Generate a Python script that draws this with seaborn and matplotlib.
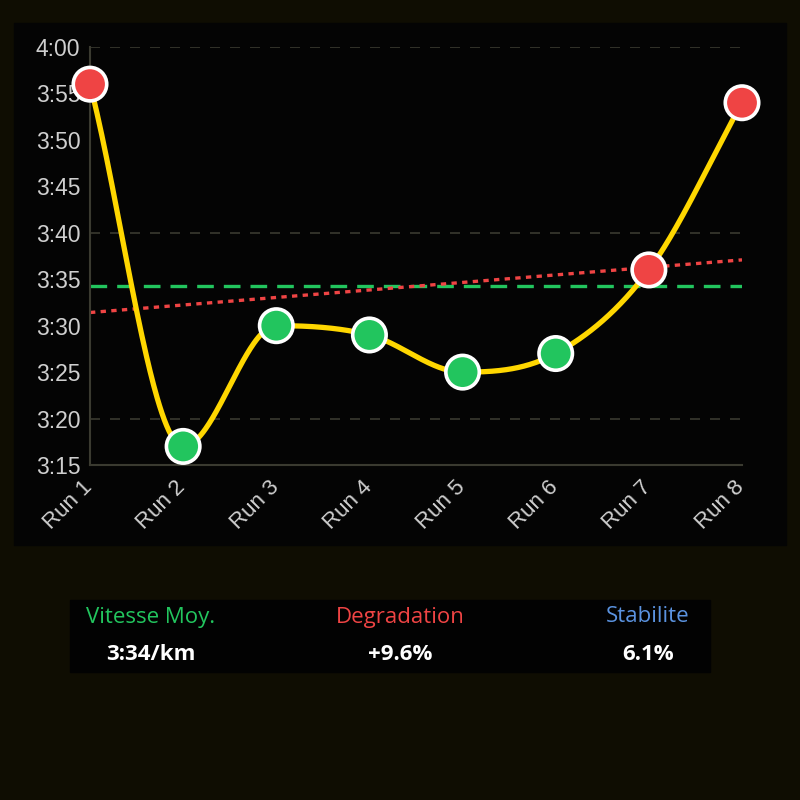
import numpy as np
import matplotlib
matplotlib.use("Agg")
import matplotlib.pyplot as plt
import matplotlib.transforms as mtransforms
import seaborn as sns
from matplotlib.patches import Rectangle

runs = ["Run 1", "Run 2", "Run 3", "Run 4", "Run 5", "Run 6", "Run 7", "Run 8"]
pace_sec = [236, 197, 210, 209, 205, 207, 216, 234]  # seconds per km
y_ticks = [195, 200, 205, 210, 215, 220, 225, 230, 235, 240]
y_tick_labels = ["3:15", "3:20", "3:25", "3:30", "3:35", "3:40", "3:45", "3:50", "3:55", "4:00"]
grid_values = [200, 220, 240]
stat_labels = ["Vitesse Moy.", "Degradation", "Stabilite"]
stat_values = ["3:34/km", "+9.6%", "6.1%"]

GREEN = "#22c55e"
RED = "#ef4444"
BLUE = "#5b93e0"
YELLOW = "#ffd700"

sns.set_theme(style="dark")
plt.rcParams["font.family"] = ["Liberation Sans", "DejaVu Sans"]

fig = plt.figure(figsize=(8, 8), dpi=100)
fig.patch.set_facecolor("#0f0d02")
# panels
fig.patches.append(Rectangle((14 / 800, 1 - 545 / 800), 772 / 800, 522 / 800,
                             transform=fig.transFigure, color="#040404", zorder=-2))
fig.patches.append(Rectangle((70 / 800, 1 - 672 / 800), 640 / 800, 72 / 800,
                             transform=fig.transFigure, color="#020202", zorder=-2))

ax = fig.add_axes([90 / 800, 1 - 465 / 800, 652 / 800, 418 / 800])
ax.set_facecolor("none")
ax.patch.set_alpha(0)
ax.set_xlim(0, len(runs) - 1)
ax.set_ylim(195, 240)

x = np.arange(len(runs), dtype=float)
y = np.array(pace_sec, dtype=float)

# Monotone cubic interpolation (Chart.js "monotone" style)
n = len(x)
deltas = np.diff(y) / np.diff(x)
mk = np.zeros(n)
mk[0] = deltas[0]
mk[-1] = deltas[-1]
for i in range(1, n - 1):
    dp, dn = deltas[i - 1], deltas[i]
    if dp == 0 or dn == 0 or np.sign(dp) != np.sign(dn):
        mk[i] = 0.0
    else:
        mk[i] = (dp + dn) / 2
for i in range(n - 1):
    d = deltas[i]
    if abs(d) < 1e-9:
        mk[i] = mk[i + 1] = 0.0
        continue
    a = mk[i] / d
    b = mk[i + 1] / d
    sq = a * a + b * b
    if sq > 9:
        tau = 3 / np.sqrt(sq)
        mk[i] = a * tau * d
        mk[i + 1] = b * tau * d

uu = np.linspace(0, 1, 80)
cx_all, cy_all = [], []
for i in range(n - 1):
    h = x[i + 1] - x[i]
    h00 = 2 * uu**3 - 3 * uu**2 + 1
    h10 = uu**3 - 2 * uu**2 + uu
    h01 = -2 * uu**3 + 3 * uu**2
    h11 = uu**3 - uu**2
    cx_all.append(x[i] + uu * h)
    cy_all.append(h00 * y[i] + h10 * h * mk[i] + h01 * y[i + 1] + h11 * h * mk[i + 1])
cx_all = np.concatenate(cx_all)
cy_all = np.concatenate(cy_all)

for g in grid_values:
    ax.axhline(g, color="#3a3a30", lw=1.2, ls=(0, (6, 6)), zorder=1)

mean_pace = y.mean()
ax.axhline(mean_pace, color=GREEN, lw=2.4, ls=(0, (5, 3)), zorder=2)

slope, intercept = np.polyfit(x, y, 1)
xt = np.array([0, len(runs) - 1])
ax.plot(xt, slope * xt + intercept, color=RED, lw=2.4, ls=(0, (1.6, 1.6)), zorder=2)

sns.lineplot(x=cx_all, y=cy_all, color=YELLOW, lw=3.8, zorder=3, ax=ax,
             sort=False, estimator=None, clip_on=False)

colors = [RED if v > mean_pace else GREEN for v in y]
sns.scatterplot(x=x, y=y, hue=runs, palette=colors, s=580, edgecolor="white",
                linewidth=2.6, legend=False, zorder=4, ax=ax, clip_on=False)

ax.set_xticks(x)
ax.set_xticklabels([])
lab_trans = mtransforms.blended_transform_factory(ax.transData, ax.transAxes) + \
    mtransforms.ScaledTranslation(-8 / 100, -12 / 100, fig.dpi_scale_trans)
for xi, name in zip(x, runs):
    ax.text(xi, 0, name, transform=lab_trans, rotation=45, ha="right", va="top",
            rotation_mode="anchor", color="#cfcfcf", fontsize=16, clip_on=False)
ax.set_yticks(y_ticks)
ax.set_yticklabels(y_tick_labels, color="#cfcfcf", fontsize=16.5)
ax.tick_params(axis="x", length=7, width=1.2, color="#3a3a30", pad=6)
ax.tick_params(axis="y", length=0, pad=7)
for s in ["top", "right"]:
    ax.spines[s].set_visible(False)
for s in ["left", "bottom"]:
    ax.spines[s].set_visible(True)
    ax.spines[s].set_color("#3a3a30")
    ax.spines[s].set_linewidth(1.5)
ax.grid(False)
ax.set_xlabel("")
ax.set_ylabel("")

label_colors = [GREEN, RED, BLUE]
centers = [151, 400, 648]
for lab, val, col, cx in zip(stat_labels, stat_values, label_colors, centers):
    fig.text(cx / 800, 1 - 617 / 800, lab, color=col, fontsize=16,
             ha="center", va="center", family=["Open Sans", "DejaVu Sans"])
    fig.text(cx / 800, 1 - 655 / 800, val, color="white", fontsize=16,
             ha="center", va="center", fontweight="bold", family=["Open Sans", "DejaVu Sans"])

fig.savefig("out.png", dpi=100, facecolor=fig.get_facecolor())
